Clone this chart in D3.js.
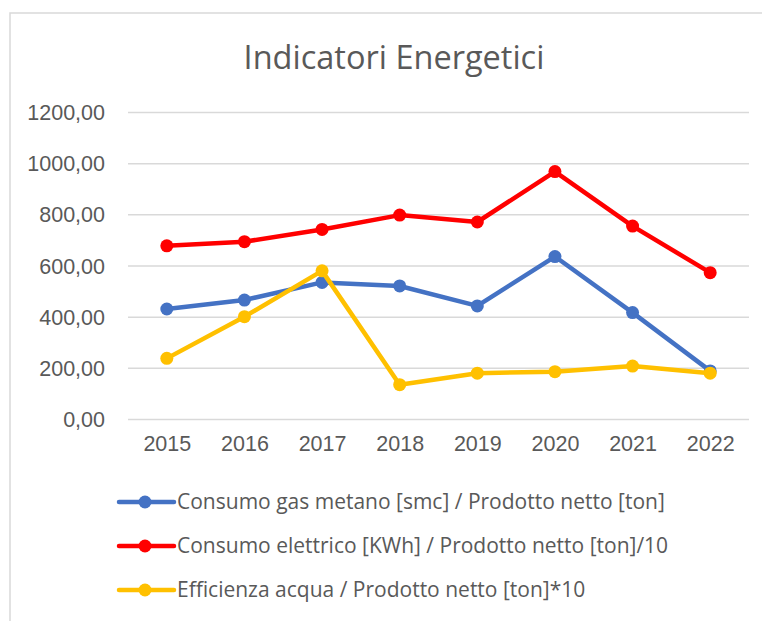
<!DOCTYPE html>
<html lang="it">
<head>
	<meta charset="UTF-8">
	<title>Indicatori Energetici</title>
	<script src="https://cdn.jsdelivr.net/npm/d3@7"></script>
	<style>
		body {
			margin: 0;
			background: #fff;
		}
		svg {
			display: block;
			font-family: "Open Sans", "Noto Sans", sans-serif;
		}
		.grid line {
			stroke: #d9d9d9;
			stroke-width: 1.5;
		}
		.tick text {
			fill: #595959;
			font-size: 21.5px;
		}
		.legend text {
			fill: #595959;
			font-size: 21px;
		}
	</style>
</head>
<body>
<script>
	// data
	var years = ["2015", "2016", "2017", "2018", "2019", "2020", "2021", "2022"];
	var gasMetano = [430, 465, 534, 520, 442, 635, 416, 188];
	var consumoElettrico = [677, 693, 741, 797, 770, 967, 754, 572];
	var efficienzaAcqua = [237, 400, 579, 134, 179, 185, 207, 179];
	var yTicks = [0, 200, 400, 600, 800, 1000, 1200];
	var seriesNames = [
		"Consumo gas metano [smc] / Prodotto netto [ton]",
		"Consumo elettrico [KWh] / Prodotto netto [ton]/10",
		"Efficienza acqua / Prodotto netto [ton]*10"
	];
	var seriesColors = ["#4472c4", "#ff0000", "#ffc000"];

	var width = 762,
		height = 621;

	var series = [gasMetano, consumoElettrico, efficienzaAcqua].map(function (vals, i) {
		return { name: seriesNames[i], color: seriesColors[i], values: vals };
	});

	var svg = d3.select("body").append("svg")
		.attr("width", width)
		.attr("height", height);

	// chart border (runs off the right and bottom of the picture)
	svg.append("rect")
		.attr("x", 10)
		.attr("y", 13)
		.attr("width", 800)
		.attr("height", 700)
		.style("fill", "none")
		.style("stroke", "#d9d9d9")
		.style("stroke-width", 1.5);

	svg.append("text")
		.attr("x", 394)
		.attr("y", 69)
		.attr("text-anchor", "middle")
		.style("font-size", "32.5px")
		.style("fill", "#595959")
		.text("Indicatori Energetici");

	var x = d3.scalePoint()
		.domain(years)
		.range([128, 749])
		.padding(0.5);

	var y = d3.scaleLinear()
		.domain([0, 1200])
		.range([419, 112]);

	// horizontal gridlines + y labels
	var yAxis = svg.append("g")
		.attr("class", "grid")
		.attr("transform", "translate(128,0)")
		.call(d3.axisLeft(y)
			.tickValues(yTicks)
			.tickSize(-621)
			.tickPadding(23)
			.tickFormat(function (d) { return d3.format(".2f")(d).replace(".", ","); }));
	yAxis.select(".domain").remove();
	yAxis.selectAll(".tick text").attr("dy", "0.35em");

	// x labels
	var xAxis = svg.append("g")
		.attr("transform", "translate(0,419)")
		.call(d3.axisBottom(x).tickSize(0).tickPadding(24));
	xAxis.select(".domain").remove();
	xAxis.selectAll(".tick text").attr("dy", "0.35em");

	var line = d3.line()
		.x(function (d, i) { return x(years[i]); })
		.y(function (d) { return y(d); });

	var sg = svg.selectAll(".serie")
		.data(series)
		.enter().append("g")
		.attr("class", "serie");

	sg.append("path")
		.attr("d", function (d) { return line(d.values); })
		.style("fill", "none")
		.style("stroke", function (d) { return d.color; })
		.style("stroke-width", 4.5)
		.style("stroke-linejoin", "round");

	sg.selectAll("circle")
		.data(function (d) {
			return d.values.map(function (v, i) { return { v: v, i: i, color: d.color }; });
		})
		.enter().append("circle")
		.attr("cx", function (d) { return x(years[d.i]); })
		.attr("cy", function (d) { return y(d.v); })
		.attr("r", 6.5)
		.style("fill", function (d) { return d.color; });

	// legend
	var legend = svg.selectAll(".legend")
		.data(series)
		.enter().append("g")
		.attr("class", "legend")
		.attr("transform", function (d, i) { return "translate(0," + (502 + i * 44) + ")"; });

	legend.append("line")
		.attr("x1", 119)
		.attr("x2", 174)
		.style("stroke", function (d) { return d.color; })
		.style("stroke-width", 4.5)
		.style("stroke-linecap", "round");

	legend.append("circle")
		.attr("cx", 145)
		.attr("r", 6.5)
		.style("fill", function (d) { return d.color; });

	legend.append("text")
		.attr("x", 177)
		.attr("dy", "0.35em")
		.text(function (d) { return d.name; });
</script>
</body>
</html>
